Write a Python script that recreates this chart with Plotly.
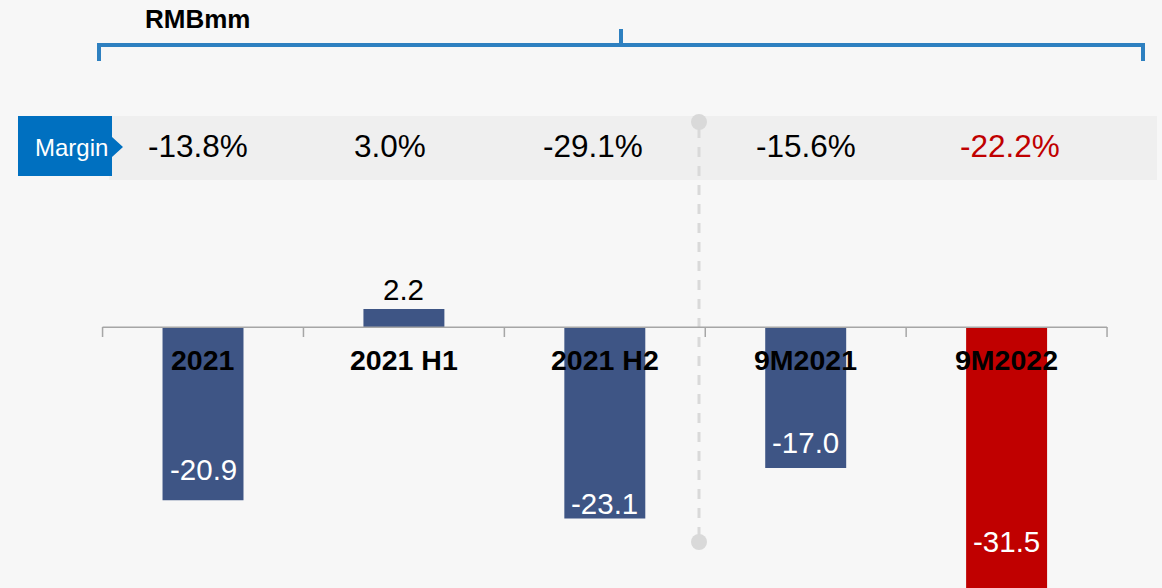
import plotly.graph_objects as go

# ---- data ----
categories = ["2021", "2021 H1", "2021 H2", "9M2021", "9M2022"]
values = [-20.9, 2.2, -23.1, -17.0, -31.5]
margins = ["-13.8%", "3.0%", "-29.1%", "-15.6%", "-22.2%"]
highlight = [False, False, False, False, True]
unit_label = "RMBmm"
margin_label = "Margin"

# ---- style ----
W, H = 1162, 588
BG = "#f7f7f7"
NAVY = "#3e5585"
RED = "#c00000"
BLUE = "#2e80c0"
FONT = "Liberation Sans, Arial, sans-serif"
label_frac = [0.82, 1.0, 0.92, 0.82, 0.82]   # where negative-bar labels sit along the bar
margin_xshift = [-5, -14, -12, 0, 3]          # small horizontal nudges of the margin texts


def px(x):
    return x / W


def py(y):
    return 1 - y / H


bar_colors = [RED if h else NAVY for h in highlight]

fig = go.Figure()
fig.add_trace(go.Bar(
    x=list(range(len(categories))),
    y=values,
    marker=dict(color=bar_colors, line=dict(width=0)),
    width=0.403,
    cliponaxis=False,
    hoverinfo="skip",
))

shapes = []
annotations = []

# bar value labels
for i, v in enumerate(values):
    if v > 0:
        annotations.append(dict(xref="x", yref="y", x=i, y=v, yshift=1,
                                text=f"{v:.1f}", showarrow=False,
                                font=dict(family=FONT, size=29.5, color="#000000"),
                                xanchor="center", yanchor="bottom"))
    else:
        annotations.append(dict(xref="x", yref="y", x=i, y=v * label_frac[i],
                                text=f"{v:.1f}", showarrow=False,
                                font=dict(family=FONT, size=29.5, color="#ffffff"),
                                xanchor="center", yanchor="middle"))

# margin band
shapes.append(dict(type="rect", xref="paper", yref="paper",
                   x0=px(109), x1=px(1157), y0=py(180), y1=py(116),
                   fillcolor="#efefef", line=dict(width=0), layer="below"))
# margin tag with arrow
tag = [(18, 116), (112, 116), (112, 137), (123, 147), (112, 157), (112, 176), (18, 176)]
path = "M " + " L ".join(f"{px(a):.5f},{py(b):.5f}" for a, b in tag) + " Z"
shapes.append(dict(type="path", xref="paper", yref="paper", path=path,
                   fillcolor="#0070c0", line=dict(width=0)))
annotations.append(dict(xref="paper", yref="paper", x=px(71), y=py(147),
                        text=margin_label, showarrow=False,
                        font=dict(family=FONT, size=24, color="#ffffff"),
                        xanchor="center", yanchor="middle"))

# margin values
for i, (m, h) in enumerate(zip(margins, highlight)):
    annotations.append(dict(xref="x", yref="paper", x=i, y=py(146), xshift=margin_xshift[i],
                            text=m, showarrow=False,
                            font=dict(family=FONT, size=31.5, color=RED if h else "#000000"),
                            xanchor="center", yanchor="middle"))

# category labels
for i, c in enumerate(categories):
    annotations.append(dict(xref="x", yref="paper", x=i, y=py(360),
                            text=f"<b>{c}</b>", showarrow=False,
                            font=dict(family=FONT, size=28.5, color="#000000"),
                            xanchor="center", yanchor="middle"))

# axis line and ticks at category boundaries
n = len(categories)
shapes.append(dict(type="line", xref="x", yref="y", x0=-0.5, x1=n - 0.5, y0=0, y1=0,
                   line=dict(color="#a6a6a6", width=1.5), layer="above"))
for i in range(n + 1):
    shapes.append(dict(type="line", xref="x", yref="paper", x0=i - 0.5, x1=i - 0.5,
                       y0=py(327), y1=py(337),
                       line=dict(color="#a6a6a6", width=1.5)))

# unit label and bracket
annotations.append(dict(xref="paper", yref="paper", x=px(197), y=py(19),
                        text=f"<b>{unit_label}</b>", showarrow=False,
                        font=dict(family=FONT, size=26, color="#000000"),
                        xanchor="center", yanchor="middle"))
bracket = (f"M {px(99)},{py(61)} L {px(99)},{py(45)} L {px(1143)},{py(45)} L {px(1143)},{py(61)} "
           f"M {px(621)},{py(45)} L {px(621)},{py(29)}")
shapes.append(dict(type="path", xref="paper", yref="paper", path=bracket,
                   line=dict(color=BLUE, width=4)))

# dashed divider with end dots
shapes.append(dict(type="line", xref="paper", yref="paper",
                   x0=px(699), x1=px(699), y0=py(128), y1=py(536),
                   line=dict(color="#d9d9d9", width=3, dash="10px,9px"), layer="below"))
for cy in (122, 542):
    shapes.append(dict(type="circle", xref="paper", yref="paper",
                       x0=px(691), x1=px(707), y0=py(cy + 8), y1=py(cy - 8),
                       fillcolor="#d9d9d9", line=dict(width=0)))

fig.update_layout(
    width=W, height=H,
    margin=dict(l=0, r=0, t=0, b=0),
    paper_bgcolor=BG, plot_bgcolor=BG,
    showlegend=False,
    shapes=shapes,
    annotations=annotations,
    xaxis=dict(range=[-1.0105, 4.7735], visible=False, fixedrange=True),
    yaxis=dict(range=[-31.5, 39.5], visible=False, fixedrange=True),
    font=dict(family=FONT),
    hovermode=False,
)

fig.write_html(
    "out.html",
    config={"displayModeBar": False},
    post_script="document.body.style.margin='0';document.body.style.background='#f7f7f7';",
)
